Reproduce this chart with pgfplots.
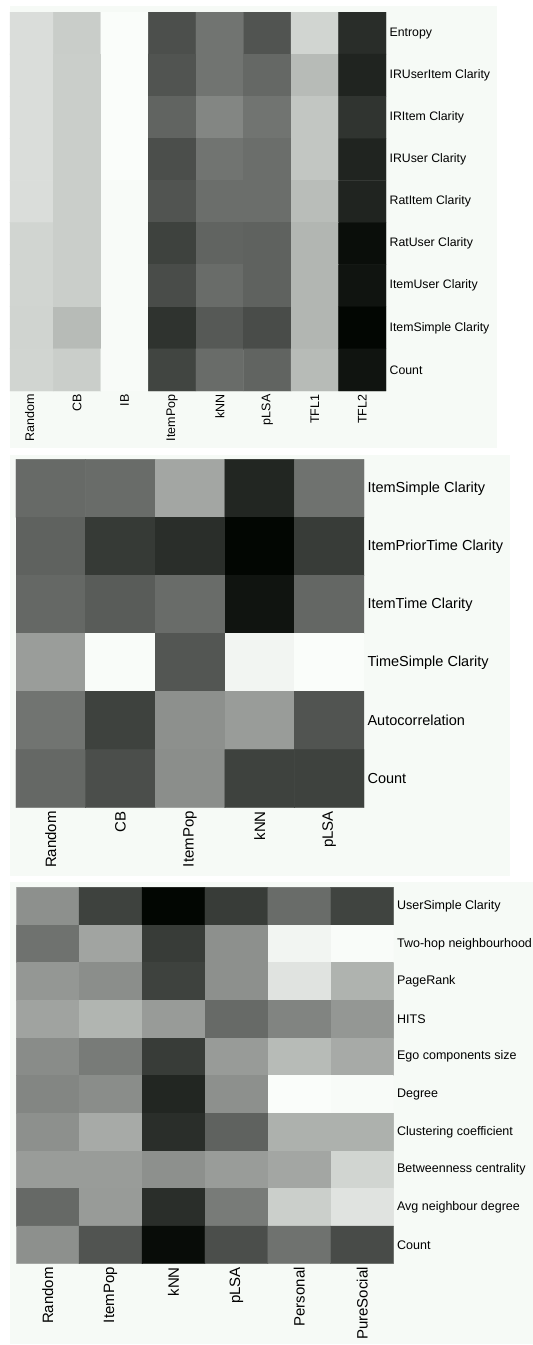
\documentclass[border=0pt]{standalone}
\usepackage{pgfplots}
\pgfplotsset{compat=1.18}
\usepackage{fontspec}
\setmainfont{Liberation Sans}

\definecolor{panelbg}{RGB}{246,250,246}

% shared look of the three heat maps
\pgfplotsset{
  heat/.style={
    scale only axis,
    anchor=north west,
    y dir=reverse,
    axis line style={draw=none},
    tick style={draw=none},
    major tick length=0pt,
    colormap={greenishgray}{rgb255(0cm)=(0,4,0); rgb255(1cm)=(250,253,250)},
    point meta min=0, point meta max=250,
    yticklabel pos=right,
    xticklabel style={rotate=90, anchor=east},
    yticklabel style={anchor=west},
  },
  cells/.style={matrix plot*, point meta=explicit, mesh/cols=#1},
}

\begin{document}
\begin{tikzpicture}
\fill[white] (0pt,0pt) rectangle (533pt,-1345pt);
\fill[panelbg] (10.2pt,-6pt)   rectangle (497pt,-448pt);
\fill[panelbg] (10.2pt,-455pt) rectangle (510pt,-876pt);
\fill[panelbg] (10.2pt,-881.7pt) rectangle (533pt,-1344pt);

% ---- recommenders vs. performance predictors (top) ----
\begin{axis}[heat,
  at={(9.9pt,-12pt)}, width=376.2pt, height=379pt,
  xmin=-0.414, xmax=7.5, ymin=-0.5, ymax=8.5,
  xtick={0,...,7}, ytick={0,...,8},
  xticklabels={Random,CB,IB,ItemPop,kNN,pLSA,TFL1,TFL2},
  yticklabels={Entropy,IRUserItem Clarity,IRItem Clarity,IRUser Clarity,RatItem Clarity,RatUser Clarity,ItemUser Clarity,ItemSimple Clarity,Count},
  xticklabel style={font=\fontsize{12.5}{14}\selectfont},
  yticklabel style={font=\fontsize{12.3}{14}\selectfont},
]
\addplot[cells=8] table[meta=c, row sep=\\] {
x y c\\
0 0 216\\ 1 0 200\\ 2 0 248\\ 3 0 75\\ 4 0 112\\ 5 0 80\\ 6 0 208\\ 7 0 41\\
0 1 216\\ 1 1 201\\ 2 1 248\\ 3 1 80\\ 4 1 112\\ 5 1 100\\ 6 1 182\\ 7 1 32\\
0 2 216\\ 1 2 201\\ 2 2 248\\ 3 2 96\\ 4 2 130\\ 5 2 112\\ 6 2 193\\ 7 2 48\\
0 3 216\\ 1 3 201\\ 2 3 248\\ 3 3 74\\ 4 3 112\\ 5 3 106\\ 6 3 193\\ 7 3 32\\
0 4 216\\ 1 4 201\\ 2 4 246\\ 3 4 80\\ 4 4 106\\ 5 4 106\\ 6 4 184\\ 7 4 32\\
0 5 208\\ 1 5 201\\ 2 5 246\\ 3 5 62\\ 4 5 96\\ 5 5 94\\ 6 5 177\\ 7 5 10\\
0 6 208\\ 1 6 201\\ 2 6 246\\ 3 6 72\\ 4 6 104\\ 5 6 94\\ 6 6 177\\ 7 6 16\\
0 7 207\\ 1 7 182\\ 2 7 246\\ 3 7 47\\ 4 7 85\\ 5 7 72\\ 6 7 177\\ 7 7 2\\
0 8 208\\ 1 8 201\\ 2 8 246\\ 3 8 65\\ 4 8 104\\ 5 8 96\\ 6 8 182\\ 7 8 16\\
};
\end{axis}

% ---- temporal predictors (middle) ----
\begin{axis}[heat,
  at={(16pt,-459.3pt)}, width=348pt, height=348.4pt,
  xmin=-0.5, xmax=4.5, ymin=-0.5, ymax=5.5,
  xtick={0,...,4}, ytick={0,...,5},
  xticklabels={Random,CB,ItemPop,kNN,pLSA},
  yticklabels={ItemSimple Clarity,ItemPriorTime Clarity,ItemTime Clarity,TimeSimple Clarity,Autocorrelation,Count},
  xticklabel style={font=\fontsize{15}{17}\selectfont},
  yticklabel style={font=\fontsize{14.5}{17}\selectfont},
]
\addplot[cells=5] table[meta=c, row sep=\\] {
x y c\\
0 0 102\\ 1 0 104\\ 2 0 162\\ 3 0 34\\ 4 0 110\\
0 1 94\\ 1 1 54\\ 2 1 42\\ 3 1 2\\ 4 1 56\\
0 2 100\\ 1 2 88\\ 2 2 104\\ 3 2 16\\ 4 2 99\\
0 3 153\\ 1 3 247\\ 2 3 82\\ 3 3 240\\ 4 3 248\\
0 4 112\\ 1 4 62\\ 2 4 140\\ 3 4 152\\ 4 4 80\\
0 5 100\\ 1 5 74\\ 2 5 138\\ 3 5 62\\ 4 5 62\\
};
\end{axis}

% ---- social predictors (bottom) ----
\begin{axis}[heat,
  at={(16.3pt,-887.3pt)}, width=377.3pt, height=376.4pt,
  xmin=-0.5, xmax=5.5, ymin=-0.5, ymax=9.5,
  xtick={0,...,5}, ytick={0,...,9},
  xticklabels={Random,ItemPop,kNN,pLSA,Personal,PureSocial},
  yticklabels={UserSimple Clarity,Two-hop neighbourhood,PageRank,HITS,Ego components size,Degree,Clustering coefficient,Betweenness centrality,Avg neighbour degree,Count},
  xticklabel style={font=\fontsize{15}{17}\selectfont},
  yticklabel style={font=\fontsize{12.5}{14}\selectfont},
]
\addplot[cells=6] table[meta=c, row sep=\\] {
x y c\\
0 0 140\\ 1 0 62\\ 2 0 2\\ 3 0 56\\ 4 0 104\\ 5 0 64\\
0 1 110\\ 1 1 160\\ 2 1 56\\ 3 1 140\\ 4 1 240\\ 5 1 247\\
0 2 147\\ 1 2 138\\ 2 2 62\\ 3 2 140\\ 4 2 222\\ 5 2 174\\
0 3 159\\ 1 3 176\\ 2 3 151\\ 3 3 102\\ 4 3 128\\ 5 3 147\\
0 4 136\\ 1 4 119\\ 2 4 56\\ 3 4 151\\ 4 4 182\\ 5 4 166\\
0 5 130\\ 1 5 137\\ 2 5 34\\ 3 5 140\\ 4 5 248\\ 5 5 246\\
0 6 140\\ 1 6 166\\ 2 6 42\\ 3 6 94\\ 4 6 172\\ 5 6 172\\
0 7 152\\ 1 7 152\\ 2 7 140\\ 3 7 152\\ 4 7 162\\ 5 7 208\\
0 8 101\\ 1 8 151\\ 2 8 42\\ 3 8 119\\ 4 8 202\\ 5 8 222\\
0 9 140\\ 1 9 80\\ 2 9 8\\ 3 9 74\\ 4 9 110\\ 5 9 71\\
};
\end{axis}

\pgfresetboundingbox
\path[use as bounding box] (0pt,0pt) rectangle (533pt,-1345pt);
\end{tikzpicture}
\end{document}
